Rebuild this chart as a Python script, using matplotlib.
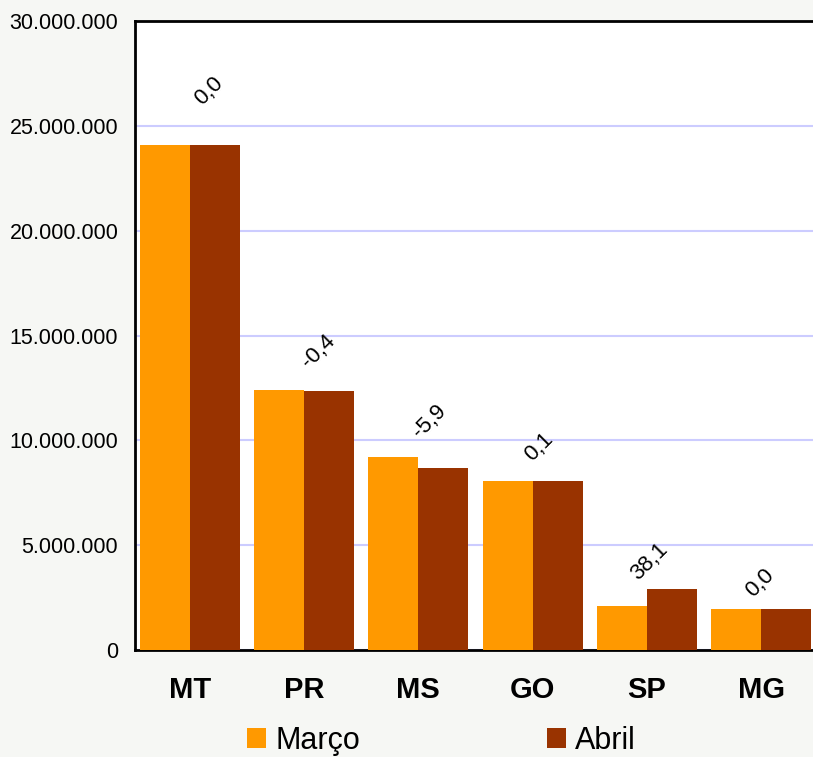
import matplotlib.pyplot as plt
import numpy as np

plt.rcParams['font.family'] = ['Liberation Sans', 'DejaVu Sans']

estados = ['MT', 'PR', 'MS', 'GO', 'SP', 'MG']
marco = [24070000, 12380000, 9220000, 8070000, 2100000, 1960000]
abril = [24070000, 12330000, 8680000, 8080000, 2900000, 1960000]
variacao = ['0,0', '-0,4', '-5,9', '0,1', '38,1', '0,0']

c_marco = '#ff9900'
c_abril = '#993300'
bg = '#f6f7f4'

fig = plt.figure(figsize=(8.13, 7.57), dpi=100, facecolor=bg)
ax = fig.add_axes([0.166, 0.1413, 0.834, 0.831])
ax.set_facecolor('white')

x = np.arange(len(estados))
w = 0.4375
ax.bar(x - w / 2, marco, width=w, color=c_marco, label='Março', zorder=3)
ax.bar(x + w / 2, abril, width=w, color=c_abril, label='Abril', zorder=3)

# percentage change written diagonally above each pair
for i, txt in enumerate(variacao):
    top = max(marco[i], abril[i])
    ax.annotate(txt, (x[i] * 0.965 + 0.166, top * 1.06), xytext=(0, 17),
                textcoords='offset points', rotation=45, ha='center',
                va='center', fontsize=16, zorder=4)

ax.set_xlim(-0.48, 5.455)
ax.set_ylim(0, 30000000)
ax.set_yticks(np.arange(0, 30000001, 5000000))
ax.set_yticklabels([f'{v:,}'.replace(',', '.') for v in range(0, 30000001, 5000000)],
                   fontsize=15.5)
ax.set_xticks(x)
ax.set_xticklabels(estados, fontsize=21, fontweight='bold')
ax.tick_params(axis='both', length=0)
ax.tick_params(axis='y', pad=12)
ax.tick_params(axis='x', pad=19)
ax.grid(axis='y', color='#ccccff', linewidth=1.5, zorder=1)

for side in ['left', 'top', 'bottom']:
    ax.spines[side].set_linewidth(2)
    ax.spines[side].set_color('black')
ax.spines['right'].set_visible(False)

fig.legend(loc='center', bbox_to_anchor=(0.543, 0.021), ncol=2, frameon=False,
           fontsize=22, handlelength=0.62, handleheight=0.62, handletextpad=0.3,
           columnspacing=6.1, borderpad=0, borderaxespad=0)

plt.savefig('out.png', dpi=100, facecolor=bg)
